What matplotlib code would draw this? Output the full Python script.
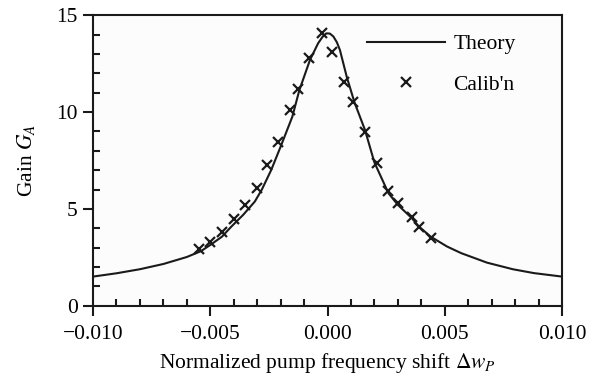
import matplotlib
matplotlib.use("Agg")
import matplotlib.pyplot as plt
from matplotlib.ticker import MultipleLocator

fontsize = 15.5
plt.rcParams["font.family"] = ["Liberation Serif", "DejaVu Serif"]
plt.rcParams["mathtext.fontset"] = "stix"

# theory curve
theory_x = [-0.010, -0.009, -0.008, -0.007, -0.006, -0.0054, -0.0050, -0.0045,
            -0.0041, -0.0036, -0.0031, -0.0028, -0.0024, -0.0020, -0.0015, -0.0012,
            -0.00075, -0.0004, -0.0002, -0.00005, 0.0001, 0.00025, 0.0004, 0.00053,
            0.00082, 0.00115, 0.0016, 0.0020, 0.0026, 0.0030, 0.0036, 0.0039, 0.0044,
            0.0051, 0.0057, 0.0068, 0.0079, 0.0088, 0.010]
theory_y = [1.51, 1.68, 1.89, 2.16, 2.52, 2.82, 3.14, 3.57,
            4.09, 4.69, 5.38, 6.0, 7.01, 8.21, 9.76, 11.13,
            12.68, 13.55, 13.9, 14.06, 14.05, 13.9, 13.6, 13.2,
            11.82, 10.5, 9.07, 7.4, 5.81, 5.21, 4.52, 4.09, 3.57,
            3.06, 2.72, 2.23, 1.89, 1.69, 1.51]

# calibration points
calib_x = [-0.0055, -0.0050, -0.0045, -0.0040, -0.0035, -0.0030, -0.0026, -0.0021,
           -0.0016, -0.00125, -0.0008, -0.00025, 0.0002, 0.0007, 0.0011, 0.0016,
           0.0021, 0.0026, 0.0030, 0.0036, 0.0039, 0.0044]
calib_y = [2.92, 3.31, 3.83, 4.47, 5.21, 6.1, 7.27, 8.47,
           10.10, 11.17, 12.77, 14.06, 13.11, 11.56, 10.53, 8.98,
           7.35, 5.95, 5.29, 4.57, 4.09, 3.49]

x_ticks = [-0.010, -0.005, 0.000, 0.005, 0.010]
x_tick_labels = ["\u22120.010", "\u22120.005", "0.000", "0.005", "0.010"]
y_ticks = [0, 5, 10, 15]

ink = "#1a1a1a"

fig = plt.figure(figsize=(5.96, 3.79), dpi=100)
ax = fig.add_axes([0.156, 0.193, 0.787, 0.767])
ax.set_facecolor("#fcfcfc")

ax.plot(theory_x, theory_y, color=ink, linewidth=1.5, label="Theory")
ax.plot(calib_x, calib_y, linestyle="none", marker="x", markersize=7.5,
        markeredgewidth=1.6, color=ink, label="Calib'n")

ax.set_xlim(-0.010, 0.010)
ax.set_ylim(0, 15)
ax.set_xticks(x_ticks, labels=x_tick_labels, fontsize=fontsize)
ax.set_yticks(y_ticks, labels=[str(v) for v in y_ticks], fontsize=fontsize)
ax.xaxis.set_minor_locator(MultipleLocator(0.001))
ax.yaxis.set_minor_locator(MultipleLocator(1))
ax.tick_params(which="major", direction="out", length=7, width=1.5, color=ink)
ax.tick_params(axis="x", which="major", pad=7)
ax.tick_params(axis="y", which="major", pad=4)
ax.tick_params(which="minor", direction="in", length=5, width=1.5, color=ink)
ax.tick_params(top=False, right=False, which="both")
for s in ax.spines.values():
	s.set_linewidth(1.5)
	s.set_color(ink)

ax.set_xlabel(r"Normalized pump frequency shift $\Delta w_P$", fontsize=fontsize, labelpad=5)
ax.set_ylabel(r"Gain $G_A$", fontsize=fontsize, labelpad=14)

ax.legend(loc="upper left", bbox_to_anchor=(0.585, 0.935), frameon=False,
          fontsize=fontsize, handlelength=3.6, handletextpad=0.4,
          labelspacing=0.95, borderpad=0, borderaxespad=0)

fig.savefig("out.png", dpi=100)
